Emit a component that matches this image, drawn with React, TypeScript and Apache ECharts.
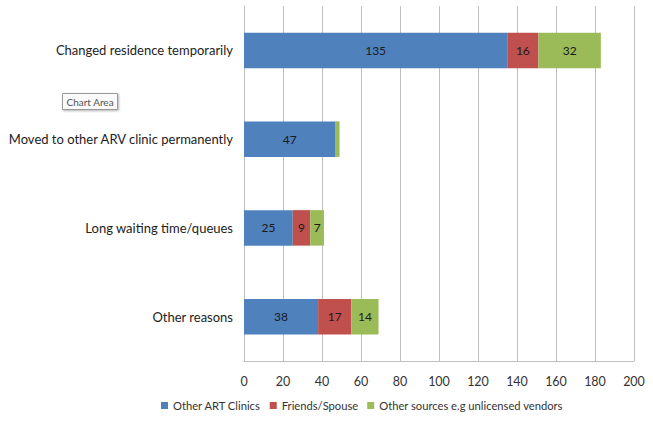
import React, { useEffect, useRef } from "react";
import * as echarts from "echarts";

const categories = [
  "Changed residence temporarily",
  "Moved to other ARV clinic permanently",
  "Long waiting time/queues",
  "Other reasons",
];
const otherArtClinics = [135, 47, 25, 38];
const friendsSpouse = [16, 0, 9, 17];
const otherSources = [32, 2, 7, 14];
const seriesNames = ["Other ART Clinics", "Friends/Spouse", "Other sources e.g unlicensed vendors"];
const colors = ["#4F81BD", "#C0504D", "#9BBB59"];

const FONT = "Lato, 'Open Sans', sans-serif";

export default function App() {
  const ref = useRef<HTMLDivElement>(null);
  useEffect(() => {
    if (!ref.current) return;
    const chart = echarts.init(ref.current, null, { renderer: "svg" });
    const mk = (name: string, data: number[], color: string) => ({
      name,
      type: "bar",
      stack: "total",
      data,
      barWidth: "40%",
      itemStyle: { color },
      label: {
        show: true,
        position: "inside",
        color: "#1a1a1a",
        fontFamily: FONT,
        fontSize: 12,
        formatter: (p: any) => (p.value >= 5 ? String(p.value) : ""),
      },
    });
    chart.setOption({
      animation: false,
      backgroundColor: "#ffffff",
      grid: { left: 244, right: 19, top: 6, bottom: 68, containLabel: false },
      legend: {
        bottom: 13,
        left: 156,
        itemWidth: 7,
        itemHeight: 7,
        itemGap: 9,
        icon: "rect",
        textStyle: { fontFamily: FONT, fontSize: 11.2, color: "#333" },
        data: seriesNames,
      },
      xAxis: {
        type: "value",
        min: 0,
        max: 200,
        interval: 20,
        axisLine: { show: true, lineStyle: { color: "#bfbfbf" } },
        axisTick: { show: false },
        splitLine: { show: true, lineStyle: { color: "#bfbfbf" } },
        axisLabel: { margin: 14, fontFamily: FONT, fontSize: 12.5, color: "#333" },
      },
      yAxis: {
        type: "category",
        inverse: true,
        data: categories,
        axisLine: { show: true, lineStyle: { color: "#bfbfbf" } },
        axisTick: { show: false },
        axisLabel: { margin: 11, fontFamily: FONT, fontSize: 13, color: "#222" },
      },
      series: [
        mk(seriesNames[0], otherArtClinics, colors[0]),
        mk(seriesNames[1], friendsSpouse, colors[1]),
        mk(seriesNames[2], otherSources, colors[2]),
      ],
      graphic: [
        {
          type: "group",
          left: 62,
          top: 93,
          children: [
            {
              type: "rect",
              shape: { x: 0, y: 0, width: 55, height: 16 },
              style: {
                fill: "#fafafa",
                stroke: "#9a9a9a",
                lineWidth: 1,
                shadowBlur: 2,
                shadowOffsetX: 1,
                shadowOffsetY: 1,
                shadowColor: "rgba(0,0,0,0.3)",
              },
            },
            {
              type: "text",
              x: 4,
              y: 3,
              style: { text: "Chart Area", fontFamily: FONT, fontSize: 10, fill: "#555" },
            },
          ],
        },
      ],
    });
    return () => chart.dispose();
  }, []);
  return <div ref={ref} style={{ width: 653, height: 429, position: "absolute", left: 0, top: 0 }} />;
}
